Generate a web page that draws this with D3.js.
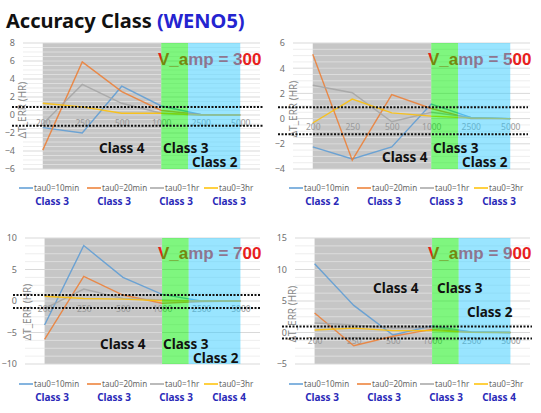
<!DOCTYPE html>
<html><head><meta charset="utf-8">
<script src="https://cdn.jsdelivr.net/npm/d3@7"></script>
<style>body{margin:0;background:#fff}</style>
</head><body>
<svg id="c" width="541" height="413"></svg>
<script>
// ---------- data ----------
const categories = ["200","250","500","1000","2500","5000"];
const seriesNames = ["tau0=10min","tau0=20min","tau0=1hr","tau0=3hr"];
const ampValues = ["300","500","700","900"];

const amp300 = [
  [-1.4,-2.0,3.2,1.0,0.05,0],
  [-3.9,5.9,2.6,0.5,0.05,0],
  [-1.0,3.4,1.3,0.2,0,0],
  [1.3,0.9,0.2,0.2,0,0]
];
const amp500 = [
  [-2.25,-3.2,-2.25,1.15,0.1,0],
  [5.1,-3.3,1.9,0.8,0.0,0],
  [2.65,2.05,-0.25,0.5,0.1,0],
  [-0.35,1.55,0.45,0.2,0.05,0]
];
const amp700 = [
  [-3.8,8.8,3.75,1.05,0,0],
  [-6.1,3.9,0.95,-0.35,-0.1,0],
  [-1.2,1.9,0.4,0.15,0,0],
  [0.75,0.4,0.3,0.05,0,0]
];
const amp900 = [
  [10.9,4.3,-0.4,1.05,0.1,0],
  [3.1,-2.1,-0.6,0.5,0.05,0],
  [1.5,1.2,0.7,0.8,0.1,0],
  [0.4,0.7,0.3,0.3,0.05,0]
];

const cls300 = ["Class 3","Class 3","Class 3","Class 3"];
const cls500 = ["Class 2","Class 3","Class 3","Class 3"];
const cls700 = ["Class 3","Class 3","Class 3","Class 4"];
const cls900 = ["Class 3","Class 3","Class 3","Class 4"];

const ticks300 = [-6,-4,-2,0,2,4,6,8];
const ticks500 = [-4,-2,0,2,4,6];
const ticks700 = [-10,-5,0,5,10];
const ticks900 = [-5,0,5,10,15];

const thr300 = [0.9,-1.2];
const thr500 = [0.9,-1.25];
const thr700 = [0.95,-1.1];
const thr900 = [0.95,-0.95];

const zoneNames = ["Class 4","Class 3","Class 2"];
const zoneBounds = [[0,3],[3,3.68],[3.68,5]]; // in category index units

// ---------- style / layout ----------
const seriesColors = ["#5b9bd5","#ed7d31","#a5a5a5","#ffc000"];
const zoneFill = ["#c6c6c6","#00ee00","#33ccff"];
const zoneOpacity = [1,0.5,0.5];

const panels = [
  {vals:amp300, cls:cls300, ticks:ticks300, thr:thr300, amp:ampValues[0], base:0,
   x0:23,x1:260,yTop:43,yBot:169, title:[23,110], ampPos:[158,65],
   zl:[[99,153],[163,153],[192,167]], dot:[12,263], legY:191, clsY:205},
  {vals:amp500, cls:cls500, ticks:ticks500, thr:thr500, amp:ampValues[1], base:270,
   x0:293,x1:530,yTop:43,yBot:169, title:[294,109], ampPos:[428,65],
   zl:[[382,162],[433,153],[462,167]], dot:[278,528], legY:191, clsY:205},
  {vals:amp700, cls:cls700, ticks:ticks700, thr:thr700, amp:ampValues[2], base:0,
   x0:25,x1:260,yTop:238,yBot:364, title:[28,312], ampPos:[158,259],
   zl:[[100,349],[163,349],[193,363]], dot:[13,260], legY:387, clsY:401},
  {vals:amp900, cls:cls900, ticks:ticks900, thr:thr900, amp:ampValues[3], base:270,
   x0:295,x1:530,yTop:238,yBot:364, title:[293,314], ampPos:[428,259],
   zl:[[373,293],[437,293],[467,317]], dot:[282,532], legY:387, clsY:401}
];

const svg = d3.select("#c");

// title
const t = svg.append("text").attr("x",6).attr("y",28)
  .style("font-family","'Noto Sans',sans-serif").style("font-weight","bold").style("font-size","20px");
t.append("tspan").attr("fill","#111").text("Accuracy Class ");
t.append("tspan").attr("fill","#2424d0").text("(WENO5)");

const legOff = [19,87,150,204];
const clsOff = [52,114,176,229];

panels.forEach(p => {
  const g = svg.append("g");
  const x = d3.scalePoint().domain(categories).range([p.x0,p.x1]).padding(0.5);
  const step = x.step();
  const xi = i => x(categories[0]) + i*step;
  const dom = d3.extent(p.ticks);
  const y = d3.scaleLinear().domain(dom).range([p.yBot,p.yTop]);
  const majorStep = p.ticks[1]-p.ticks[0];

  // gray zone (opaque, below)
  g.append("rect").attr("x",xi(zoneBounds[0][0])).attr("y",p.yTop)
    .attr("width",xi(zoneBounds[0][1])-xi(zoneBounds[0][0])).attr("height",p.yBot-p.yTop)
    .attr("fill",zoneFill[0]);

  // gridlines
  const minor = d3.range(dom[0], dom[1]+1e-9, majorStep/4).filter(v=>!p.ticks.includes(v));
  g.selectAll(".mn").data(minor).enter().append("line")
    .attr("x1",p.x0).attr("x2",p.x1).attr("y1",d=>y(d)).attr("y2",d=>y(d))
    .attr("stroke","#e6e6e6").attr("stroke-width",0.7);
  g.selectAll(".mj").data(p.ticks).enter().append("line")
    .attr("x1",p.x0).attr("x2",p.x1).attr("y1",d=>y(d)).attr("y2",d=>y(d))
    .attr("stroke","#d9d9d9").attr("stroke-width",1);

  // y axis
  const ya = g.append("g").attr("transform",`translate(${p.x0-7},0)`)
    .call(d3.axisLeft(y).tickValues(p.ticks).tickSize(0).tickPadding(1));
  ya.select(".domain").remove();
  ya.selectAll("text").attr("fill","#707070").style("font-size","9px")
    .style("font-family","'Noto Sans',sans-serif");

  // category labels at zero
  const xa = g.append("g").attr("transform",`translate(0,${y(0)})`)
    .call(d3.axisBottom(x).tickSize(0).tickPadding(5));
  xa.select(".domain").remove();
  xa.selectAll("text").attr("fill","#999").style("font-size","8.5px")
    .style("font-family","'Noto Sans',sans-serif");

  // y title
  g.append("text").attr("transform",`translate(${p.title[0]+3},${p.title[1]}) rotate(-90)`)
    .attr("text-anchor","middle").attr("fill","#888")
    .style("font-size","10px").style("font-family","'Noto Sans',sans-serif")
    .text("ΔT_ERR (HR)");

  // series
  const line = d3.line().x((d,i)=>x(categories[i])).y(d=>y(d));
  p.vals.forEach((s,k)=>{
    g.append("path").datum(s).attr("d",line).attr("fill","none")
      .attr("stroke",seriesColors[k]).attr("stroke-width",1.4).attr("opacity",0.85);
  });

  // V_amp text
  g.append("text").attr("x",p.ampPos[0]).attr("y",p.ampPos[1])
    .attr("fill","#e8201c").style("font-family","'Liberation Sans',Arial,sans-serif")
    .style("font-weight","bold").style("font-size","17px").text("V_amp = "+p.amp);

  // green & cyan overlays
  [1,2].forEach(z=>{
    g.append("rect").attr("x",xi(zoneBounds[z][0])).attr("y",p.yTop)
      .attr("width",xi(zoneBounds[z][1])-xi(zoneBounds[z][0])).attr("height",p.yBot-p.yTop)
      .attr("fill",zoneFill[z]).attr("opacity",zoneOpacity[z]);
  });

  // dotted threshold lines
  g.selectAll(".thr").data(p.thr).enter().append("line")
    .attr("x1",p.dot[0]).attr("x2",p.dot[1]).attr("y1",d=>y(d)).attr("y2",d=>y(d))
    .attr("stroke","#111").attr("stroke-width",2).attr("stroke-dasharray","2 1.5");

  // zone labels
  zoneNames.forEach((n,i)=>{
    g.append("text").attr("x",p.zl[i][0]).attr("y",p.zl[i][1]).attr("fill","#111")
      .style("font-family","'Noto Sans',sans-serif").style("font-weight","bold")
      .style("font-size","13.5px").text(n);
  });

  // legend
  seriesNames.forEach((n,k)=>{
    const lx = p.base + legOff[k];
    g.append("line").attr("x1",lx).attr("x2",lx+14).attr("y1",p.legY-3).attr("y2",p.legY-3)
      .attr("stroke",seriesColors[k]).attr("stroke-width",1.5);
    g.append("text").attr("x",lx+15).attr("y",p.legY).attr("fill","#666")
      .style("font-size","8px").style("font-family","'Noto Sans',sans-serif").text(n);
    g.append("text").attr("x",p.base+clsOff[k]).attr("y",p.clsY).attr("text-anchor","middle")
      .attr("fill","#2a2ab8").style("font-weight","bold").style("font-size","10px")
      .style("font-family","'Noto Sans',sans-serif").text(p.cls[k]);
  });
});
</script>
</body></html>
